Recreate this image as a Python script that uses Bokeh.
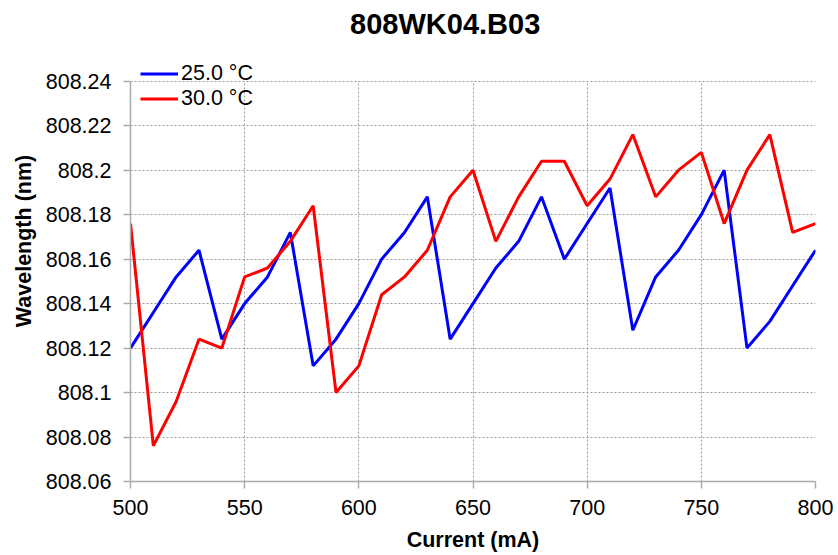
from bokeh.plotting import figure
from bokeh.models import (Range1d, FixedTicker, CustomJSTickFormatter, Legend, LegendItem,
                          BoxAnnotation, Label)
from bokeh.embed import file_html
from bokeh.resources import INLINE

current = [500, 510, 520, 530, 540, 550, 560, 570, 580, 590, 600, 610, 620, 630, 640, 650,
           660, 670, 680, 690, 700, 710, 720, 730, 740, 750, 760, 770, 780, 790, 800]
wl_25 = [808.120, 808.136, 808.152, 808.164, 808.124, 808.140, 808.152, 808.172, 808.112, 808.124,
         808.140, 808.160, 808.172, 808.188, 808.124, 808.140, 808.156, 808.168, 808.188, 808.160,
         808.176, 808.192, 808.128, 808.152, 808.164, 808.180, 808.200, 808.120, 808.132, 808.148,
         808.164]
wl_30 = [808.176, 808.076, 808.096, 808.124, 808.120, 808.152, 808.156, 808.168, 808.184, 808.100,
         808.112, 808.144, 808.152, 808.164, 808.188, 808.200, 808.168, 808.188, 808.204, 808.204,
         808.184, 808.196, 808.216, 808.188, 808.200, 808.208, 808.176, 808.200, 808.216, 808.172,
         808.176]
x_ticks = [500, 550, 600, 650, 700, 750, 800]
y_ticks = [808.06, 808.08, 808.10, 808.12, 808.14, 808.16, 808.18, 808.20, 808.22, 808.24]
series_names = ["25.0 \u00b0C", "30.0 \u00b0C"]
title_text = "808WK04.B03"

FONT = "Liberation Sans"

# the frame runs up to the top edge; the space above the top tick holds title and legend
p = figure(width=838, height=555, output_backend="svg", toolbar_location=None,
           x_range=Range1d(500, 800), y_range=Range1d(808.06, 808.2763),
           min_border_left=130, min_border_right=23, min_border_top=0, min_border_bottom=74)
p.outline_line_color = None

r1 = p.line(current, wl_25, line_color="#0000FF", line_width=3)
r2 = p.line(current, wl_30, line_color="#FF0000", line_width=3)

for ax in (p.xaxis, p.yaxis):
    ax.axis_line_color = "#ABABAB"
    ax.axis_line_width = 1.5
    ax.major_tick_line_color = "#ABABAB"
    ax.major_tick_line_width = 1.5
    ax.major_tick_in = 0
    ax.major_tick_out = 7
    ax.minor_tick_line_color = None
    ax.major_label_text_font = FONT
    ax.major_label_text_font_size = "21.5px"
    ax.major_label_text_color = "black"
    ax.axis_label_text_font = FONT
    ax.axis_label_text_font_size = "21.5px"
    ax.axis_label_text_font_style = "bold"
    ax.axis_label_text_color = "black"

p.xaxis.ticker = FixedTicker(ticks=x_ticks)
p.yaxis.ticker = FixedTicker(ticks=y_ticks)
p.yaxis.bounds = (y_ticks[0], y_ticks[-1])
p.yaxis.formatter = CustomJSTickFormatter(code="return String(parseFloat(tick.toFixed(2)));")
p.xaxis.axis_label = "Current (mA)"
p.yaxis.axis_label = "Wavelength (nm)"
p.xaxis.major_label_standoff = 11
p.yaxis.major_label_standoff = 12
p.xaxis.axis_label_standoff = 10
p.yaxis.axis_label_standoff = 7

xg = p.xgrid[0]
yg = p.ygrid[0]
for g in (xg, yg):
    g.grid_line_color = "#9A9A9A"
    g.grid_line_dash = "2 2"
    g.grid_line_width = 1

# blank out the vertical grid lines above the top tick
cover = BoxAnnotation(bottom=y_ticks[-1], fill_color="white", fill_alpha=1.0,
                      line_color=None, level="underlay")

title = Label(x=314.7, y=457.7, x_units="screen", y_units="screen", text=title_text,
              text_align="center", text_baseline="alphabetic", text_font=FONT,
              text_font_size="29px", text_font_style="bold", text_color="black")

legend = Legend(items=[LegendItem(label=series_names[0], renderers=[r1]),
                       LegendItem(label=series_names[1], renderers=[r2])],
                location=(10, 370))
legend.background_fill_alpha = 0
legend.border_line_color = None
legend.padding = 0
legend.margin = 0
legend.spacing = 0
legend.glyph_width = 38
legend.glyph_height = 25
legend.label_height = 25
legend.label_standoff = 3
legend.label_text_font = FONT
legend.label_text_font_size = "21.5px"
legend.label_text_color = "black"

p.center = [xg, cover, yg, title, legend]

open("out.html", "w").write(file_html(p, INLINE))
